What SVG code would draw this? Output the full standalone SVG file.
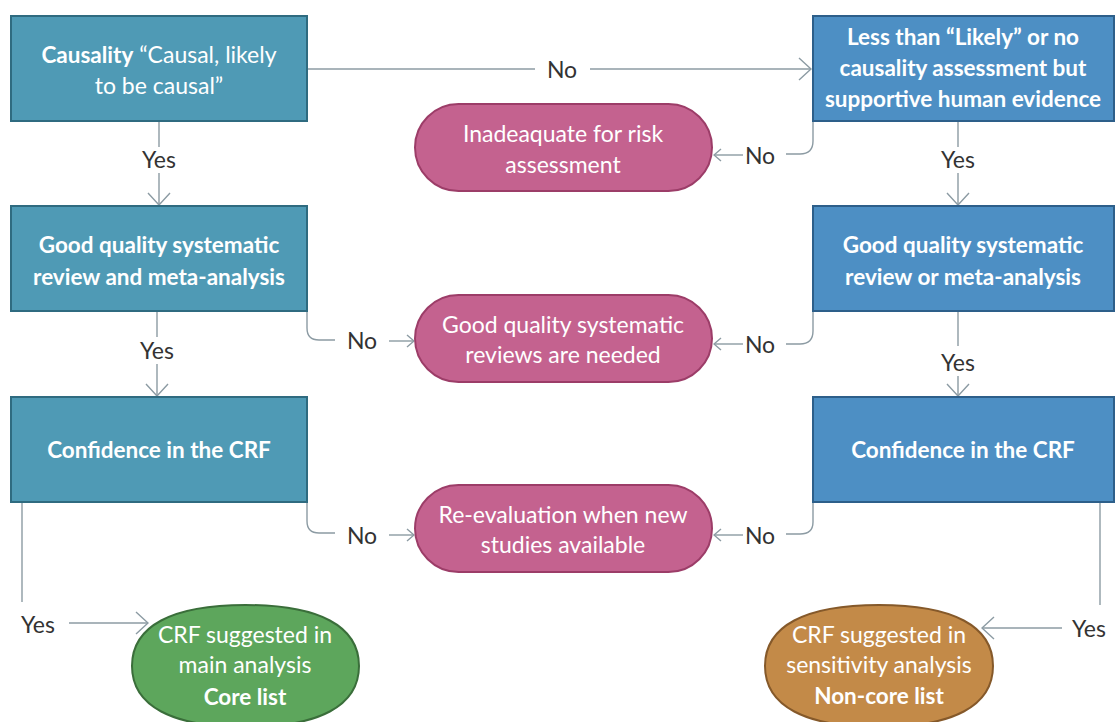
<svg xmlns="http://www.w3.org/2000/svg" width="1116" height="722" viewBox="0 0 1116 722">
<style>
.bl{fill:#4f9ab5;stroke:#2f6b80;stroke-width:2}
.br{fill:#4d8fc4;stroke:#2d5f8a;stroke-width:2}
.pk{fill:#c4628f;stroke:#9c3d68;stroke-width:2}
.gr{fill:#5da65c;stroke:#3a6e3a;stroke-width:2}
.or{fill:#c38a48;stroke:#85592a;stroke-width:2}
.t{font-family:Lato,"Liberation Sans",sans-serif;font-size:23px;fill:#fff;text-anchor:middle}
.b{font-weight:bold;font-size:22.5px}
.lb{font-family:Lato,"Liberation Sans",sans-serif;font-size:23px;fill:#333;text-anchor:middle}
.c{fill:none;stroke:#8c9ba3;stroke-width:1.4}
</style>
<defs>
<marker id="big" markerUnits="userSpaceOnUse" viewBox="0 0 14 24" refX="13" refY="12" markerWidth="14" markerHeight="24" orient="auto">
<path d="M1,1 L13,12 L1,23" fill="none" stroke="#8c9ba3" stroke-width="1.4"/>
</marker>
<marker id="sm" markerUnits="userSpaceOnUse" viewBox="0 0 9 14" refX="8" refY="7" markerWidth="9" markerHeight="14" orient="auto">
<path d="M1,1 L8,7 L1,13" fill="none" stroke="#8c9ba3" stroke-width="1.4"/>
</marker>
</defs>
<rect width="1116" height="722" fill="#fff"/>
<g id="connectors">
<path class="c" d="M307,69 H535"/>
<path class="c" d="M590,69 H811" marker-end="url(#big)"/>
<text class="lb" x="562" y="78">No</text>
<path class="c" d="M813,121 V141 Q813,154 800,154 H786"/>
<text class="lb" x="760" y="164">No</text>
<path class="c" d="M743,155 H714" marker-end="url(#sm)"/>
<path class="c" d="M159,121 V147"/>
<text class="lb" x="159" y="168">Yes</text>
<path class="c" d="M159,173 V205" marker-end="url(#big)"/>
<path class="c" d="M958,121 V147"/>
<text class="lb" x="958" y="168">Yes</text>
<path class="c" d="M958,173 V205" marker-end="url(#big)"/>
<path class="c" d="M307,311 V328 Q307,340 319,340 H335"/>
<text class="lb" x="362" y="349">No</text>
<path class="c" d="M389,341 H414" marker-end="url(#sm)"/>
<path class="c" d="M813,311 V331 Q813,344 800,344 H786"/>
<text class="lb" x="760" y="353">No</text>
<path class="c" d="M743,344 H714" marker-end="url(#sm)"/>
<path class="c" d="M157,311 V337"/>
<text class="lb" x="157" y="359">Yes</text>
<path class="c" d="M157,364 V396" marker-end="url(#big)"/>
<path class="c" d="M958,311 V346"/>
<text class="lb" x="958" y="371">Yes</text>
<path class="c" d="M958,376 V396" marker-end="url(#big)"/>
<path class="c" d="M307,502 V521 Q307,533 319,533 H335"/>
<text class="lb" x="362" y="544">No</text>
<path class="c" d="M389,535 H414" marker-end="url(#sm)"/>
<path class="c" d="M813,502 V522 Q813,534 800,534 H786"/>
<text class="lb" x="760" y="544">No</text>
<path class="c" d="M743,535 H714" marker-end="url(#sm)"/>
<path class="c" d="M22,502 V602"/>
<text class="lb" x="38" y="633">Yes</text>
<path class="c" d="M69,623 H148" marker-end="url(#big)"/>
<path class="c" d="M1100,502 V605"/>
<text class="lb" x="1089" y="637">Yes</text>
<path class="c" d="M1062,628 H982" marker-end="url(#big)"/>
</g>
<g id="n-causality">
<rect class="bl" x="11" y="16" width="296" height="105"/>
<text class="t" x="159" y="63"><tspan class="b">Causality</tspan> “Causal, likely</text>
<text class="t" x="159" y="94">to be causal”</text>
</g>
<g id="n-lessthan">
<rect class="br" x="813" y="16" width="301" height="105"/>
<text class="t b" x="963" y="45">Less than “Likely” or no</text>
<text class="t b" x="963" y="76">causality assessment but</text>
<text class="t b" x="963" y="107">supportive human evidence</text>
</g>
<g id="n-inadequate">
<rect class="pk" x="415" y="104" width="297" height="87" rx="43.5"/>
<text class="t" x="563" y="142">Inadeaquate for risk</text>
<text class="t" x="563" y="173">assessment</text>
</g>
<g id="n-review-and">
<rect class="bl" x="11" y="206" width="296" height="105"/>
<text class="t b" x="159" y="253">Good quality systematic</text>
<text class="t b" x="159" y="285">review and meta-analysis</text>
</g>
<g id="n-review-or">
<rect class="br" x="813" y="206" width="301" height="105"/>
<text class="t b" x="963" y="253">Good quality systematic</text>
<text class="t b" x="963" y="285">review or meta-analysis</text>
</g>
<g id="n-reviews-needed">
<rect class="pk" x="415" y="295" width="297" height="87" rx="43.5"/>
<text class="t" x="563" y="333">Good quality systematic</text>
<text class="t" x="563" y="363">reviews are needed</text>
</g>
<g id="n-confidence-left">
<rect class="bl" x="11" y="397" width="296" height="105"/>
<text class="t b" x="159" y="458">Confidence in the CRF</text>
</g>
<g id="n-confidence-right">
<rect class="br" x="813" y="397" width="301" height="105"/>
<text class="t b" x="963" y="458">Confidence in the CRF</text>
</g>
<g id="n-reevaluation">
<rect class="pk" x="415" y="485" width="297" height="87" rx="43.5"/>
<text class="t" x="563" y="523">Re-evaluation when new</text>
<text class="t" x="563" y="553">studies available</text>
</g>
<g id="n-core">
<path class="gr" d="M132,666 C132,626 172,605 245.5,605 C319,605 359,626 359,666 C359,706 319,727 245.5,727 C172,727 132,706 132,666 Z"/>
<text class="t" x="245" y="643">CRF suggested in</text>
<text class="t" x="245" y="673">main analysis</text>
<text class="t b" x="245" y="705">Core list</text>
</g>
<g id="n-noncore">
<path class="or" d="M765,666 C765,626 805,605 879,605 C953,605 993,626 993,666 C993,706 953,727 879,727 C805,727 765,706 765,666 Z"/>
<text class="t" x="879" y="643">CRF suggested in</text>
<text class="t" x="879" y="673">sensitivity analysis</text>
<text class="t b" x="879" y="704">Non-core list</text>
</g>
</svg>
